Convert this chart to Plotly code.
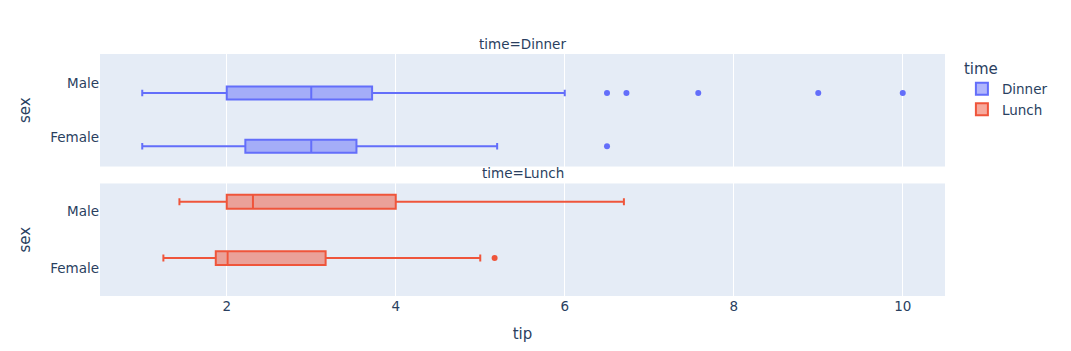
import plotly.graph_objects as go
from plotly.subplots import make_subplots

sexes = ["Female", "Male"]

dinner_lower = [1.0, 1.0]
dinner_q1 = [2.22, 2.0]
dinner_median = [3.0, 3.0]
dinner_q3 = [3.535, 3.72]
dinner_upper = [5.2, 6.0]
dinner_outliers = [[6.5], [6.5, 6.73, 7.58, 9.0, 10.0]]

lunch_lower = [1.25, 1.44]
lunch_q1 = [1.87, 2.0]
lunch_median = [2.01, 2.31]
lunch_q3 = [3.17, 4.0]
lunch_upper = [5.0, 6.7]
lunch_outliers = [[5.17], []]

colors = {"Dinner": "#636efa", "Lunch": "#EF553B"}
FONT = "DejaVu Sans"
SMALL = 13.5

fig = make_subplots(rows=2, cols=1, shared_xaxes=True, vertical_spacing=0.07,
                    subplot_titles=("time=Dinner", "time=Lunch"))


def box(name, lower, q1, med, q3, upper, pts, visible_trace=True):
    kw = dict(
        name=name, legendgroup=name, offsetgroup=name, alignmentgroup="True",
        orientation="h", y=sexes,
        lowerfence=lower, q1=q1, median=med, q3=q3, upperfence=upper,
    )
    if visible_trace:
        kw.update(x=pts, boxpoints="outliers", marker_color=colors[name],
                  line_color=colors[name])
    else:
        # placeholder keeping the other group's slot, drawn invisibly
        kw.update(boxpoints=False, line_color="rgba(0,0,0,0)",
                  fillcolor="rgba(0,0,0,0)", showlegend=False, hoverinfo="skip")
    return go.Box(**kw)


fig.add_trace(box("Dinner", dinner_lower, dinner_q1, dinner_median, dinner_q3,
                  dinner_upper, dinner_outliers), row=1, col=1)
fig.add_trace(box("Lunch", dinner_lower, dinner_q1, dinner_median, dinner_q3,
                  dinner_upper, None, visible_trace=False), row=1, col=1)
fig.add_trace(box("Dinner", lunch_lower, lunch_q1, lunch_median, lunch_q3,
                  lunch_upper, None, visible_trace=False), row=2, col=1)
fig.add_trace(box("Lunch", lunch_lower, lunch_q1, lunch_median, lunch_q3,
                  lunch_upper, lunch_outliers), row=2, col=1)

fig.update_layout(
    template="plotly",
    width=1071, height=351,
    margin=dict(l=100, r=126, t=54, b=55),
    boxmode="group",
    legend=dict(title=dict(text="time", font=dict(family=FONT, size=15)),
                font=dict(family=FONT, size=SMALL), tracegroupgap=0),
    font=dict(family=FONT, color="#2a3f5f"),
)
for a in fig.layout.annotations:
    a.font = dict(size=SMALL, family=FONT)
fig.update_yaxes(title_text="sex", categoryorder="array", categoryarray=sexes,
                 tickfont=dict(family=FONT, size=SMALL),
                 title_font=dict(family=FONT, size=15))
fig.update_xaxes(tickfont=dict(family=FONT, size=SMALL),
                 title_font=dict(family=FONT, size=15))
fig.update_xaxes(title_text="tip", row=2, col=1)

fig.write_html("out.html")
